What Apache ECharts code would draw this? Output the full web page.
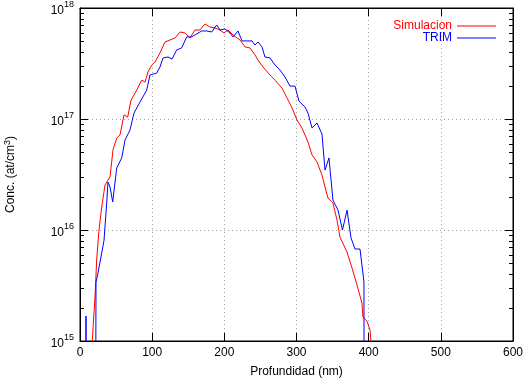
<!DOCTYPE html>
<html>
<head>
<meta charset="utf-8">
<script src="https://cdn.jsdelivr.net/npm/echarts@6/dist/echarts.min.js"></script>
<style>
html,body{margin:0;padding:0;background:#fff;}
#c{width:524px;height:379px;}
</style>
</head>
<body>
<div id="c"></div>
<script>
// ---- data ----
var simX = [16, 20.8, 23.1, 26.3, 30.1, 34.6, 38.8, 41.6, 45.7, 50.9, 55.4, 61, 66.1, 70.7, 78.6, 85.5, 90.1, 94.2, 99.3, 103.9, 110.8, 117.8, 124.7, 131.6, 138.6, 145.5, 152.4, 159.3, 166.3, 173.2, 180.1, 187.1, 194, 199.5, 205.1, 212, 221.7, 228.6, 235.5, 242.5, 246.6, 253.6, 263.3, 270.2, 279.9, 286.8, 293.8, 300.7, 307.6, 315.9, 321.5, 328.4, 335.3, 339.5, 343.6, 350.5, 356.1, 360.2, 369.9, 376.9, 383.8, 390.7, 392.1, 397.7, 401.8, 404.6];
var simY = [8e14, 2.49e15, 5.37e15, 1.0e16, 1.61e16, 2.54e16, 2.82e16, 3.0e16, 5.26e16, 6.74e16, 7.18e16, 1.09e17, 1.04e17, 1.48e17, 1.82e17, 2.24e17, 2.15e17, 2.65e17, 3.06e17, 3.26e17, 3.94e17, 4.94e17, 5.15e17, 5.37e17, 6.08e17, 5.96e17, 5.37e17, 6.34e17, 6.34e17, 7.18e17, 6.74e17, 6.61e17, 6.34e17, 5.96e17, 6.34e17, 5.71e17, 5.15e17, 4.46e17, 4.37e17, 3.78e17, 3.40e17, 2.94e17, 2.49e17, 2.24e17, 1.90e17, 1.55e17, 1.26e17, 9.8e16, 8.3e16, 6.2e16, 4.74e16, 4.10e16, 3.13e16, 2.44e16, 1.94e16, 1.75e16, 1.23e16, 8.65e15, 6.34e15, 4.55e15, 3.2e15, 2.2e15, 1.64e15, 1.51e15, 1.26e15, 8e14];

var trimX = [8.2, 8.3, 8.5, 21.5, 22.2, 24.9, 30.1, 33.3, 37, 38.8, 41.6, 45.3, 50.9, 57.8, 62.4, 69.3, 74.8, 83.1, 92.4, 97, 99.3, 106.3, 110.8, 115, 121.9, 127.5, 134, 140.9, 147.8, 154.8, 161.7, 168.6, 175.6, 182.5, 189.4, 194, 200.9, 207.8, 212, 218.9, 224.5, 231.4, 238.3, 242.5, 246.6, 252.2, 256.3, 263.3, 270.2, 277.1, 284, 291, 297.9, 303.4, 311.8, 315.9, 321.5, 328.4, 335.3, 339.5, 345, 350.5, 357.5, 363.7, 370, 375.5, 381, 388, 393.5, 393.6];
var trimY = [1e14, 1.68e15, 1e14, 1e14, 3.4e15, 4.1e15, 6.2e15, 8.1e15, 1.75e16, 2.7e16, 2.44e16, 1.79e16, 3.62e16, 4.46e16, 6.47e16, 7.96e16, 1.13e17, 1.42e17, 1.82e17, 2.49e17, 2.59e17, 2.59e17, 2.94e17, 3.55e17, 3.62e17, 3.47e17, 4.19e17, 4.37e17, 5.49e17, 5.49e17, 5.84e17, 6.21e17, 6.21e17, 6.08e17, 7.03e17, 6.34e17, 6.47e17, 5.96e17, 5.49e17, 6.21e17, 5.05e17, 5.05e17, 5.05e17, 4.64e17, 4.94e17, 4.46e17, 3.62e17, 3.55e17, 3.06e17, 2.76e17, 2.39e17, 1.98e17, 1.98e17, 1.45e17, 1.28e17, 1.13e17, 8.3e16, 9.2e16, 7.33e16, 3.47e16, 4.46e16, 1.86e16, 1.51e16, 1.0e16, 1.51e16, 8.5e15, 6.74e15, 6.74e15, 3.4e15, 1e14];

var seriesNames = ['Simulacion', 'TRIM'];
var yMinor = [];
for (var d = 15; d < 18; d++) { for (var m = 2; m <= 9; m++) { yMinor.push(m * Math.pow(10, d)); } }

function zip(a, b) { return a.map(function (v, i) { return [v, b[i]]; }); }

var FONT = '"Liberation Sans", Arial, Helvetica, sans-serif';
var chart = echarts.init(document.getElementById('c'), null, { renderer: 'canvas' });

var gridLine = { show: true, lineStyle: { color: '#a0a0a0', type: [1, 3], width: 1 } };
var noLine = { show: false };
function tick() { return { show: true, inside: true, length: 8, lineStyle: { color: '#000', width: 1 } }; }
function axLine() { return { show: true, onZero: false, lineStyle: { color: '#000', width: 1 } }; }

chart.setOption({
  animation: false,
  backgroundColor: '#fff',
  textStyle: { fontFamily: FONT },
  grid: {
    left: 80, right: 11, top: 8, bottom: 38, containLabel: false, outerBoundsMode: 'none',
    show: true, borderColor: '#000', borderWidth: 1, backgroundColor: 'transparent'
  },
  legend: {
    orient: 'vertical',
    right: 23,
    top: 15,
    align: 'right',
    icon: 'rect',
    itemWidth: 39,
    itemHeight: 1,
    itemGap: 0,
    selectedMode: false,
    formatter: '{t|{name}}',
    textStyle: { fontFamily: FONT, fontSize: 12, rich: { t: { width: 60, align: 'right', fontFamily: FONT, fontSize: 12, lineHeight: 12 } } },
    data: [
      { name: seriesNames[0], textStyle: { color: '#ff0000' } },
      { name: seriesNames[1], textStyle: { color: '#0000ff' } }
    ]
  },
  xAxis: [
    {
      type: 'value', min: 0, max: 600, interval: 100, position: 'bottom',
      name: 'Profundidad (nm)', nameLocation: 'middle', nameGap: 25,
      nameTextStyle: { fontFamily: FONT, fontSize: 12, color: '#000' },
      axisLine: axLine(),
      axisTick: tick(),
      axisLabel: { color: '#000', fontFamily: FONT, fontSize: 12, margin: 6 },
      splitLine: gridLine
    },
    {
      type: 'value', min: 0, max: 600, interval: 100, position: 'top',
      axisLine: axLine(),
      axisTick: tick(),
      axisLabel: { show: false },
      splitLine: noLine
    }
  ],
  yAxis: [
    {
      type: 'log', logBase: 10, min: 1e15, max: 1e18, interval: 1, position: 'left',
      name: '{a|Conc. (at/cm}{s|3}{a|)}', nameLocation: 'middle', nameGap: 62, nameRotate: 90,
      nameTextStyle: { color: '#000', fontFamily: FONT, fontSize: 12,
        rich: { a: { fontFamily: FONT, fontSize: 12, color: '#000' }, s: { fontFamily: FONT, fontSize: 9, color: '#000', verticalAlign: 'top', padding: [0, 0, 6, 0] } } },
      axisLine: axLine(),
      axisTick: tick(),
      axisLabel: {
        color: '#000', margin: 6, showMinLabel: true, showMaxLabel: true, hideOverlap: false,
        formatter: function (v) { return '{b|10}{s|' + Math.round(Math.log10(v)) + '}'; },
        rich: {
          b: { fontFamily: FONT, fontSize: 12, color: '#000', padding: [5, 0, 0, 0] },
          s: { fontFamily: FONT, fontSize: 9, color: '#000', padding: [0, 0, 6, 0] }
        }
      },
      splitLine: gridLine
    },
    {
      type: 'log', logBase: 10, min: 1e15, max: 1e18, interval: 1, position: 'right',
      axisLine: axLine(),
      axisTick: tick(),
      axisLabel: { show: false },
      splitLine: noLine
    }
  ],
  series: [
    {
      name: seriesNames[0], type: 'line', xAxisIndex: 0, yAxisIndex: 0,
      data: zip(simX, simY), symbol: 'none', clip: true, z: 3,
      lineStyle: { color: '#ff0000', width: 1 }, itemStyle: { color: '#ff0000' }
    },
    {
      name: seriesNames[1], type: 'line', xAxisIndex: 0, yAxisIndex: 0,
      data: zip(trimX, trimY), symbol: 'none', clip: true, z: 3,
      lineStyle: { color: '#0000ff', width: 1 }, itemStyle: { color: '#0000ff' }
    },
    {
      name: 'minorTicks', type: 'custom', xAxisIndex: 0, yAxisIndex: 0, silent: true, z: 4,
      clip: false,
      data: yMinor.map(function (v) { return [0, v]; }),
      encode: { x: 0, y: 1 },
      renderItem: function (params, api) {
        var cs = params.coordSys;
        var y = Math.round(api.coord([0, api.value(1)])[1]) + 0.5;
        var left = cs.x, right = cs.x + cs.width;
        var st = { stroke: '#000', lineWidth: 1 };
        return {
          type: 'group',
          children: [
            { type: 'line', shape: { x1: left, y1: y, x2: left + 4, y2: y }, style: st },
            { type: 'line', shape: { x1: right - 4, y1: y, x2: right, y2: y }, style: st }
          ]
        };
      }
    }
  ]
});
</script>
</body>
</html>
